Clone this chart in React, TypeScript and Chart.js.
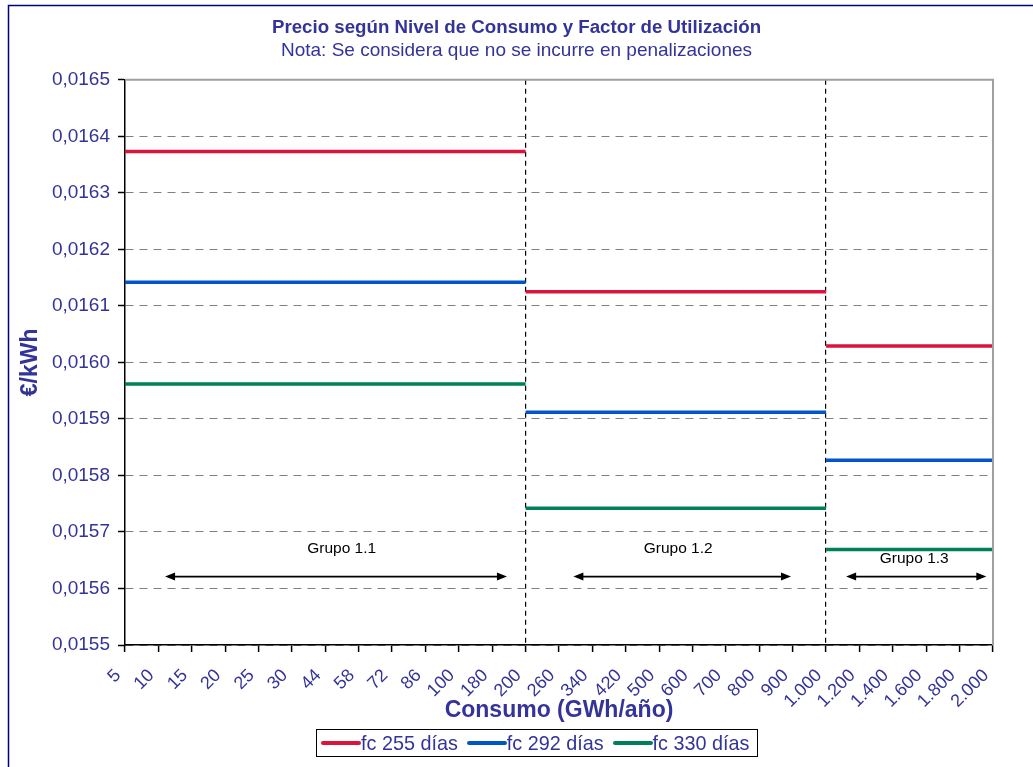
import React, { useEffect, useRef } from 'react';
import { Chart, registerables } from 'chart.js';

Chart.register(...registerables);

const FONT = "'Liberation Sans', Arial, Helvetica, sans-serif";
const TEXT = '#333399';

const TITLE = 'Precio según Nivel de Consumo y Factor de Utilización';
const SUBTITLE = 'Nota: Se considera que no se incurre en penalizaciones';
const X_TITLE = 'Consumo (GWh/año)';
const Y_TITLE = '€/kWh';

const categories = [
  '5', '10', '15', '20', '25', '30', '44', '58', '72', '86', '100', '180', '200',
  '260', '340', '420', '500', '600', '700', '800', '900', '1.000',
  '1.200', '1.400', '1.600', '1.800', '2.000',
];
const groupEnds = ['200', '1.000', '2.000'];
const groupLabels = ['Grupo 1.1', 'Grupo 1.2', 'Grupo 1.3'];

const seriesNames = ['fc 255 días', 'fc 292 días', 'fc 330 días'];
const fc255 = [0.016373, 0.016125, 0.016029];
const fc292 = [0.016142, 0.015912, 0.015827];
const fc330 = [0.015962, 0.015742, 0.015669];
const seriesColors = ['#DC143C', '#0055C8', '#00805A'];

const Y_MIN = 0.0155;
const Y_MAX = 0.0165;
const Y_STEP = 0.0001;

// annotation placement (axis units)
const arrowStart = [1.2, 13.43, 21.6];
const arrowEnd = [11.44, 19.95, 25.8];
const arrowY = 0.015621;
const labelX = [6.49, 16.57, 23.64];
const labelY = [0.015671, 0.015671, 0.015652];

const endIdx = groupEnds.map((l) => categories.indexOf(l));

function segments(vals: number[]) {
  const pts: { x: number; y: number | null }[] = [];
  let start = 0;
  vals.forEach((v, i) => {
    if (i > 0) pts.push({ x: start, y: null });
    pts.push({ x: start, y: v }, { x: endIdx[i], y: v });
    start = endIdx[i];
  });
  return pts;
}

const decor = {
  id: 'decor',
  beforeDraw(chart: any) {
    const { ctx } = chart;
    ctx.save();
    ctx.fillStyle = '#fff';
    ctx.fillRect(0, 0, chart.width, chart.height);
    ctx.restore();
  },
  afterDatasetsDraw(chart: any) {
    const { ctx, chartArea: a, scales } = chart;
    const x = scales.x;
    const y = scales.y;
    ctx.save();
    // plot area border (top/right)
    ctx.strokeStyle = '#A0A0A0';
    ctx.lineWidth = 2;
    ctx.beginPath();
    ctx.moveTo(a.left, a.top);
    ctx.lineTo(a.right, a.top);
    ctx.lineTo(a.right, a.bottom);
    ctx.stroke();

    // group annotations
    groupLabels.forEach((lab, i) => {
      const x1 = x.getPixelForValue(arrowStart[i]);
      const x2 = x.getPixelForValue(arrowEnd[i]);
      const yy = y.getPixelForValue(arrowY);
      ctx.strokeStyle = '#000';
      ctx.fillStyle = '#000';
      ctx.lineWidth = 1.6;
      ctx.beginPath();
      ctx.moveTo(x1 + 6, yy);
      ctx.lineTo(x2 - 6, yy);
      ctx.stroke();
      ctx.beginPath();
      ctx.moveTo(x1, yy);
      ctx.lineTo(x1 + 10, yy - 4);
      ctx.lineTo(x1 + 10, yy + 4);
      ctx.closePath();
      ctx.fill();
      ctx.beginPath();
      ctx.moveTo(x2, yy);
      ctx.lineTo(x2 - 10, yy - 4);
      ctx.lineTo(x2 - 10, yy + 4);
      ctx.closePath();
      ctx.fill();
      ctx.font = `15.5px ${FONT}`;
      ctx.textAlign = 'center';
      ctx.textBaseline = 'middle';
      ctx.fillText(lab, x.getPixelForValue(labelX[i]), y.getPixelForValue(labelY[i]));
    });

    // outer frame
    ctx.strokeStyle = '#000080';
    ctx.lineWidth = 1.5;
    ctx.beginPath();
    ctx.moveTo(8.5, chart.height + 5);
    ctx.lineTo(8.5, 5.5);
    ctx.lineTo(chart.width + 5, 5.5);
    ctx.stroke();
    ctx.restore();
  },
};

export default function App() {
  const ref = useRef<HTMLCanvasElement | null>(null);

  useEffect(() => {
    if (!ref.current) return;
    const series = [fc255, fc292, fc330];
    const chart = new Chart(ref.current, {
      type: 'line',
      data: {
        datasets: series.map((vals, i) => ({
          label: seriesNames[i],
          data: segments(vals) as any,
          borderColor: seriesColors[i],
          backgroundColor: seriesColors[i],
          borderWidth: 3.5,
          pointRadius: 0,
          spanGaps: false,
          fill: false,
          tension: 0,
        })),
      },
      options: {
        animation: false,
        responsive: false,
        maintainAspectRatio: false,
        layout: { padding: { left: 0, right: 0, top: 0, bottom: 43 } },
        plugins: {
          legend: { display: false },
          tooltip: { enabled: false },
          title: {
            display: true,
            text: TITLE,
            color: TEXT,
            font: { family: FONT, size: 18.7, weight: 'bold' },
            padding: { top: 16.8, bottom: 0 },
          },
          subtitle: {
            display: true,
            text: SUBTITLE,
            color: TEXT,
            font: { family: FONT, size: 19 },
            padding: { top: 0, bottom: 17.8 },
          },
        },
        scales: {
          x: {
            type: 'linear',
            min: 0,
            max: categories.length - 1,
            ticks: {
              stepSize: 1,
              autoSkip: false,
              maxRotation: 45,
              minRotation: 45,
              color: TEXT,
              font: { family: FONT, size: 18 },
              padding: 13,
              labelOffset: -7,
              callback: (v: any) => categories[Math.round(Number(v))] ?? '',
            },
            grid: {
              color: (c: any) =>
                c.tick && endIdx.slice(0, -1).includes(Math.round(c.tick.value)) ? '#000' : 'rgba(0,0,0,0)',
              lineWidth: 1.2,
              tickColor: '#000',
              tickLength: 7,
              tickWidth: 1.5,
            },
            border: { display: true, color: '#000', width: 1.5, dash: [5, 4] },
            title: {
              display: true,
              text: X_TITLE,
              color: TEXT,
              font: { family: FONT, size: 23, weight: 'bold' },
              padding: { top: 0, bottom: 0 },
            },
            afterFit: (s: any) => {
              s.height = 79;
            },
          },
          y: {
            min: Y_MIN,
            max: Y_MAX,
            ticks: {
              stepSize: Y_STEP,
              color: TEXT,
              font: { family: FONT, size: 19 },
              padding: 8,
              callback: (v: any) => Number(v).toFixed(4).replace('.', ','),
            },
            grid: {
              color: '#808080',
              lineWidth: 1,
              tickColor: '#000',
              tickLength: 7,
              tickWidth: 1.5,
            },
            border: { display: true, color: '#000', width: 1.5, dash: [8, 6] },
            title: {
              display: true,
              text: Y_TITLE,
              color: TEXT,
              font: { family: FONT, size: 23, weight: 'bold' },
              padding: { top: 17, bottom: 0 },
            },
            afterFit: (s: any) => {
              s.width = 125;
            },
          },
          yR: {
            type: 'linear',
            position: 'right',
            display: true,
            grid: { display: false, drawTicks: false },
            ticks: { display: false },
            border: { display: false },
            afterFit: (s: any) => {
              s.width = 40;
            },
          },
        },
      } as any,
      plugins: [decor],
    });
    return () => chart.destroy();
  }, []);

  return (
    <div style={{ position: 'fixed', left: 0, top: 0, width: 1033, height: 767, background: '#fff', overflow: 'hidden' }}>
      <canvas ref={ref} width={1033} height={767} style={{ display: 'block' }} />
      <div
        style={{
          position: 'absolute',
          left: 316,
          top: 729,
          height: 28,
          boxSizing: 'border-box',
          border: '1px solid #000',
          display: 'flex',
          alignItems: 'center',
          padding: '0 8px 0 4px',
          fontFamily: FONT,
          fontSize: 19.8,
          color: TEXT,
          whiteSpace: 'nowrap',
        }}
      >
        {seriesNames.map((n, i) => (
          <span key={n} style={{ display: 'flex', alignItems: 'center', marginRight: i < seriesNames.length - 1 ? 9 : 0 }}>
            <span style={{ display: 'inline-block', width: 40, height: 4, borderRadius: 2, background: seriesColors[i] }} />
            <span>{n}</span>
          </span>
        ))}
      </div>
    </div>
  );
}
